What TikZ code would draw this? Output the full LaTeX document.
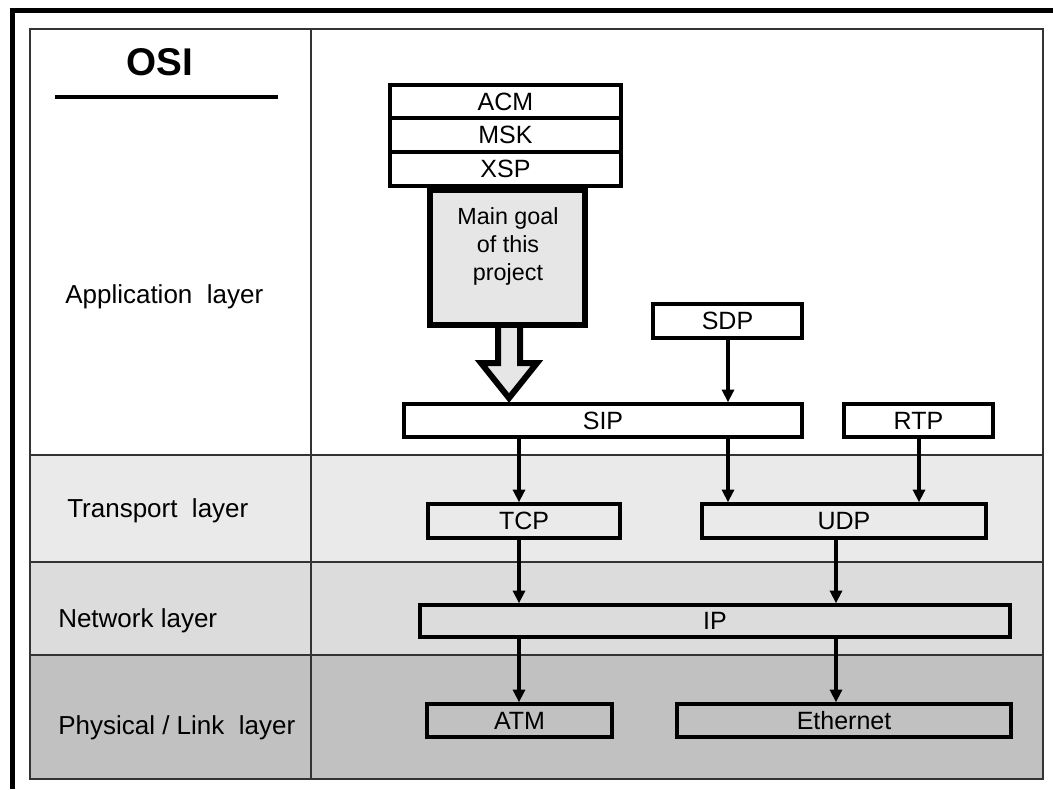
\documentclass[tikz,border=0pt]{standalone}
\usepackage{fontspec}
\setmainfont{Liberation Sans}
\usetikzlibrary{arrows.meta,fit}
\definecolor{rowtrans}{HTML}{EAEAEA}
\definecolor{rownet}{HTML}{DCDCDC}
\definecolor{rowphys}{HTML}{C1C1C1}
\definecolor{goalfill}{HTML}{E6E6E6}
\definecolor{gridc}{HTML}{333333}
\begin{document}
\begin{tikzpicture}[x=0.75pt,y=-0.75pt,
  box/.style={draw=black,line width=2.6pt,inner sep=0pt,
    label={[font=\fontsize{18.75}{22}\selectfont,inner sep=0pt]center:#1}},
  goalbox/.style={draw=black,line width=4.5pt,fill=goalfill,inner sep=0pt},
  conn/.style={line width=2.3pt,-{Triangle[length=9.5pt,width=9pt]}},
  grid/.style={draw=gridc,line width=1.1pt},
  layerlbl/.style={anchor=base west,inner sep=0pt,
    font=\fontsize{19.5}{23}\selectfont}]
\useasboundingbox (0,0) rectangle (1053,789);
\fill[white] (0,0) rectangle (1053,789);

% layer bands
\fill[rowtrans] (30,455) rectangle (1043,562);
\fill[rownet]   (30,562) rectangle (1043,655);
\fill[rowphys]  (30,655) rectangle (1043,779);

% table grid
\draw[grid] (30,29) rectangle (1043,779);
\draw[grid] (311,29) -- (311,779);
\draw[grid] (30,455) -- (1043,455);
\draw[grid] (30,562) -- (1043,562);
\draw[grid] (30,655) -- (1043,655);

% outer frame (top and left)
\draw[line width=3.75pt,line join=miter] (12.5,789) -- (12.5,10.5) -- (1053,10.5);

% heading
\node[anchor=base,inner sep=0pt,font=\bfseries\fontsize{29}{34}\selectfont] (osi) at (160,75) {OSI};
\draw[line width=2.6pt] (55,97) -- (278,97);

% layer names
\node[layerlbl] (applbl)  at (65,303) {Application\ \ layer};
\node[layerlbl] (translbl) at (67,517) {Transport\ \ layer};
\node[layerlbl] (netlbl)  at (58,627) {Network layer};
\node[layerlbl] (physlbl) at (58,734) {Physical / Link\ \ layer};

% block arrow from the project box down to SIP
\draw[line width=4.5pt,fill=goalfill,line join=miter]
  (498,325) -- (498,363) -- (481,363) -- (509,398) -- (537,363) -- (520,363) -- (520,325);

% application stack
\node[box=ACM,fill=white,fit={(390,85) (621,118)}] (acm) {};
\node[box=MSK,fill=white,fit={(390,118) (621,152)}] (msk) {};
\node[box=XSP,fill=white,fit={(390,152) (621,186)}] (xsp) {};
\node[goalbox,fit={(430,190) (585,325)}] (goal) {};
\node[align=center,inner sep=0pt,font=\fontsize{17.5}{21}\selectfont] (goaltxt) at (508,246)
  {Main goal\\of this\\project};

\node[box=SDP,fill=white,fit={(653,304) (802,338)}] (sdp) {};
\node[box=SIP,fill=white,fit={(404,404) (802,437)}] (sip) {};
\node[box=RTP,fill=white,fit={(844,404) (993,437)}] (rtp) {};

% transport, network, link boxes
\node[box=TCP,fit={(428,504) (620,538)}] (tcp) {};
\node[box=UDP,fit={(702,504) (986,538)}] (udp) {};
\node[box=IP,fit={(420,605) (1010,637)}] (ip) {};
\node[box=ATM,fit={(427,704) (612,737)}] (atm) {};
\node[box=Ethernet,fit={(677,704) (1011,737)}] (eth) {};

% connector columns
\coordinate (cA) at (519,0);
\coordinate (cB) at (728,0);
\coordinate (cC) at (919,0);
\coordinate (cD) at (836,0);

\draw[conn] (sdp.south -| cB) -- (sip.north -| cB);
\draw[conn] (sip.south -| cA) -- (tcp.north -| cA);
\draw[conn] (sip.south -| cB) -- (udp.north -| cB);
\draw[conn] (rtp.south -| cC) -- (udp.north -| cC);
\draw[conn] (tcp.south -| cA) -- (ip.north -| cA);
\draw[conn] (udp.south -| cD) -- (ip.north -| cD);
\draw[conn] (ip.south -| cA) -- (atm.north -| cA);
\draw[conn] (ip.south -| cD) -- (eth.north -| cD);
\end{tikzpicture}
\end{document}
